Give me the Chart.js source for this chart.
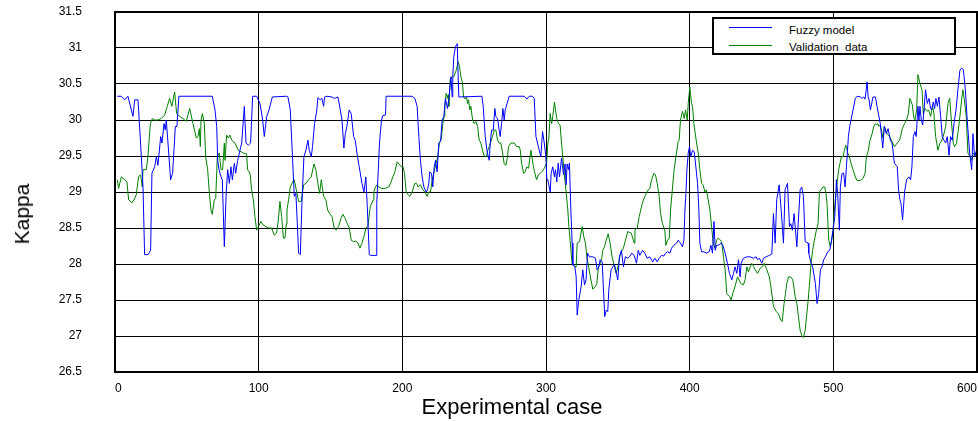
<!DOCTYPE html>
<html>
<head>
<meta charset="utf-8">
<script src="https://cdn.jsdelivr.net/npm/chart.js@4/dist/chart.umd.min.js"></script>
<style>
html,body{margin:0;padding:0;background:#fff;}
#wrap{position:relative;width:978px;height:421px;font-family:"Liberation Sans",Arial,sans-serif;color:#000;}
canvas{display:block;}
#legend{position:absolute;left:712px;top:17px;width:240px;height:34px;border:2px solid #000;background:#fff;font-size:11.5px;}
#legend .ln{position:absolute;left:15px;width:43px;height:1px;}
#legend .tx{position:absolute;left:75px;white-space:pre;line-height:12px;}
#xtitle{position:absolute;left:312px;width:400px;top:395px;text-align:center;font-size:22px;line-height:24px;white-space:nowrap;}
#ytitle{position:absolute;left:22px;top:214px;width:0;height:0;}
#ytitle span{position:absolute;left:0;top:0;transform:translate(-50%,-50%) rotate(-90deg);font-size:21px;line-height:22px;white-space:nowrap;}
</style>
</head>
<body>
<div id="wrap">
<canvas id="c" width="978" height="421"></canvas>
<div id="legend">
  <div class="ln" style="top:8px;background:#0000ff"></div><div class="tx" style="top:5px">Fuzzy model</div>
  <div class="ln" style="top:26px;background:#008000"></div><div class="tx" style="top:22px">Validation  data</div>
</div>
<div id="xtitle">Experimental case</div>
<div id="ytitle"><span>Kappa</span></div>
</div>
<script>
const xTickValues = [0, 100, 200, 300, 400, 500, 600];
const yTickValues = [26.5, 27, 27.5, 28, 28.5, 29, 29.5, 30, 30.5, 31, 31.5];
const seriesNames = ["Fuzzy model", "Validation  data"];

// [experimental case, kappa]
const fuzzyPoints = [
[1.6,30.33],[4.4,30.33],[6.7,30.28],[9.0,30.33],[12.5,30.05],[13.7,30.28],[16,30.28],[17.8,29.68],[19.5,29.07],[20.6,28.13],[23,28.13],[24.8,28.19],[25.7,29.26],[27.6,29.35],[28.8,29.49],[29.9,29.37],[31.8,29.77],[32.7,29.68],[34.1,29.95],[35,29.86],[35.7,30.0],[36.9,29.68],[38.7,29.17],[40.1,29.26],[42,29.91],[43.1,29.91],[44.5,30.33],
[67.7,30.33],[69.6,30.14],[70.8,29.91],[71.5,29.44],[72.4,29.31],[73.8,29.21],[74.7,29.17],[76.1,28.24],[77.3,28.94],[78.4,29.31],[79.6,29.12],[80.7,29.35],[81.7,29.17],[83.1,29.4],[84,29.26],[85.4,29.44],[87,29.58],[88.2,29.68],[90,30.19],[91.2,29.68],[92.8,29.65],[94.4,29.68],[95.8,30.33],[98.6,30.33],[100.9,30.23],[102.8,30.0],[103.9,29.77],[105.6,30.05],[107.2,30.14],[109.5,30.32],[119.3,30.33],
[120.4,30.32],[122,30.14],[123.1,29.68],[124.8,28.94],[125.9,28.98],[126.9,28.56],[127.8,28.15],[129,28.13],[130.1,28.84],[131.5,29.49],[132.9,29.58],[134.3,29.72],[135.2,29.58],[136.6,29.49],[137.5,29.63],[138.9,29.95],[140.5,30.14],[141.2,30.31],[142.9,30.28],[144,30.3],[145.2,30.19],[145.9,30.32],[147.5,30.33],[151,30.32],[152.8,30.3],[155.2,30.32],[156.8,30.14],[158,30.0],[159.3,29.61],[160.3,29.81],[161.4,29.91],[163,30.14],[164.4,30.09],[166.1,29.77],[167.2,29.72],[168.4,29.54],[170,29.35],[171.9,29.12],[173.3,29.0],[174.6,29.21],[175.6,28.8],[177,28.13],[177.9,28.12],
[181.8,28.12],[182.2,28.84],[184.1,29.68],[185.5,30.0],[186.4,30.06],[188.3,30.07],[188.7,30.33],[206.8,30.33],[208.7,30.3],[210.3,30.19],[211.5,29.77],[212.6,29.44],[213.8,29.21],[215,29.07],[216.6,29.0],[217.5,29.03],[218.4,29.12],[219.1,29.28],[220.3,29.26],[221.2,29.07],[222.2,29.35],[223.1,29.44],[224.2,29.28],[225.4,29.68],[226.6,29.7],[227.7,30.0],[228.9,30.05],[230,30.3],[231.4,30.16],[232.4,30.3],[233.8,30.6],[234.7,30.32],[235.1,30.6],[235.8,30.88],[237,31.02],[238.2,31.06],[239.3,30.32],
[255.4,30.33],[256.3,30.19],[257.7,29.77],[258.9,29.58],[259.8,29.49],[260.5,29.44],[261.2,29.68],[262.1,29.86],[263.3,29.86],[264.4,30.16],[265.1,30.05],[266.3,30.02],[267.4,29.86],[268.1,29.77],[269.1,29.95],[270,30.16],[270.9,30.0],[271.6,30.14],[274.4,30.33],[284.8,30.33],[286.7,30.29],[288.3,30.33],[290.6,30.33],[291.8,30.3],[293,29.77],[295.3,29.58],[296.4,29.49],[297.6,29.84],[298.8,29.68],[299.9,29.49],[300.6,29.17],
[301.3,29.17],[302.9,29.0],[303.6,29.26],[304.7,29.35],[305.9,29.21],[306.6,29.31],[307.5,29.14],[308.5,29.4],[309.4,29.21],[310.8,29.47],[312.2,29.24],[313.3,29.39],[314,29.1],[314.7,29.39],[315.6,29.31],[316.3,29.4],[317.3,28.75],[318.2,28.29],[318.7,27.99],[320.1,27.96],[321,27.82],[321.7,27.29],[322.8,27.5],[324.5,27.69],[325.6,27.92],[326.8,27.71],[327.9,27.78],[328.9,28.15],[330.3,28.1],[332.6,28.1],[334.4,28.08],[335.6,27.92],[336.8,27.96],[337.7,28.06],[339.1,28.03],[340,27.64],[340.9,27.27],[341.9,27.36],[343,27.34],[343.7,27.64],[345.3,27.92],[346.5,27.96],[347.7,27.99],[350,27.78],[351.1,28.1],[352.5,28.19],[353.9,27.96],[355.3,28.1],[356.9,28.08],[358.1,28.1],[359.7,28.15],[361.4,28.12],
[363,28.01],[364.2,28.19],[365.3,28.12],[367.2,28.19],[368.8,28.15],[370.4,28.08],[372.3,28.1],[374.2,28.03],[375.8,28.08],[377.4,28.03],[378.8,28.08],[380.4,28.12],[382,28.11],[383.2,28.15],[384.6,28.17],[386.2,28.15],[387.4,28.22],[389,28.26],[390.9,28.29],[392,28.33],[393.6,28.29],[395,28.24],[396,28.33],[396.7,28.75],[397.4,28.98],[398.1,29.31],[399,29.54],[399.9,29.63],[400.8,29.49],[402,29.58],[403.2,29.56],[404.3,29.35],[405.5,29.12],[406.4,28.75],[407.1,28.29],[408.3,28.17],[409.9,28.17],[411.7,28.15],[413.6,28.17],[414.8,28.26],[415.9,28.15],[416.9,28.59],[417.8,28.19],[418.7,28.26],[419.9,28.26],[422,28.29],
[423.1,28.26],[424.7,28.15],[426.3,28.01],[427.7,27.87],[429.3,27.78],[430.5,27.87],[431.6,27.96],[432.8,27.87],[434,28.06],[435.1,27.82],[435.8,28.01],[437.4,28.08],[439.8,28.1],[442.1,28.1],[444.4,28.08],[446.3,28.1],[447.2,28.06],[448.6,28.08],[450.2,28.01],[451.4,28.08],[453.2,28.1],[455.5,28.12],[457.2,28.14],[458.3,28.7],[459.5,28.29],[460.6,28.89],[462.3,29.1],[463.7,28.75],[465.3,28.29],[466.4,29.03],[468.1,29.12],[469.5,28.52],[470.4,28.56],[471.5,28.47],[472.7,28.7],[474.6,28.24],[476.9,29.03],[478,29.07],[479.2,28.94],[480.4,28.31],[482.5,28.29],
[482.9,28.15],[484.5,28.01],[485.6,27.96],[487.5,27.73],[488.7,27.45],[489.8,27.59],[491,27.92],[492.1,27.96],[493.3,28.06],[494.5,28.1],[496.1,28.17],[497.5,28.19],[498.4,28.29],[499.8,28.47],[501,28.66],[501.7,28.94],[502.1,29.17],[503,28.98],[504.2,28.47],[504.9,29.07],[506.1,29.26],[507.2,29.26],[508.2,29.07],[509.1,29.35],[510.5,29.77],[511.4,29.91],[512.3,30.0],[513.7,30.14],[515.3,30.3],[516.5,30.33],[518.8,30.32],[520,30.3],[521.1,30.32],[522.1,30.29],[523.5,30.53],[524.2,30.32],[524.9,30.28],[525.8,30.14],[527.6,30.32],[529.3,30.32],[530.4,30.19],[532.7,29.95],[534.4,29.61],[535.5,29.91],[536.9,29.81],[538.1,29.88],[539.7,29.72],[540.9,29.68],[542.5,29.4],
[543.8,29.37],[544.5,29.35],[545.4,29.03],[546.4,28.89],[547.1,28.84],[548.2,28.61],[548.7,28.75],[549.6,29.0],[551,29.17],[552.6,29.21],[553.8,29.17],[554.7,29.35],[555.7,29.77],[556.8,29.84],[557.7,29.77],[558.9,30.19],[559.6,30.0],[560.3,30.19],[561.2,30.0],[562.2,29.93],[563.1,30.14],[564.2,30.42],[565.4,30.23],[566.6,30.3],[567.7,30.16],[568.4,30.14],[569.6,30.25],[570.5,30.16],[571.4,30.3],[572.4,30.19],[573.5,30.32],[574.7,30.05],[575.8,29.77],[577,29.72],[578.2,29.68],[579.3,29.77],[580.5,29.51],[581.6,29.77],[582.8,29.72],[584,29.95],[585.4,30.14],[586.7,30.42],[588.1,30.69],[589.3,30.72],[590.5,30.7],[591.9,30.42],[593.2,30.0],[594.9,29.54],[596.3,29.31],[597.2,29.81],[598.3,29.49],[599.7,29.58]
];

const validPoints = [
[1.6,29.17],[2.5,29.05],[4.4,29.21],[6.7,29.17],[8.3,29.14],[9.5,28.89],[11.8,28.85],[13.2,28.89],[14.8,28.96],[16.4,29.21],[17.8,29.24],[19,29.07],[19.5,29.31],[21.8,29.31],[22.9,29.49],[24.6,29.95],[26,30.02],[27.6,30.0],[29.9,30.0],[32.2,30.02],[34.6,30.07],[36.4,30.19],[38,30.3],[39.6,30.19],[41.5,30.39],[42.9,30.09],[45,30.05],[47.3,30.02],[49.6,29.98],[52,30.16],[54.3,29.95],[56.6,29.75],[57.8,29.77],
[58.7,29.88],[59.4,29.63],[59.9,30.0],[60.8,30.09],[62.2,29.95],[63.1,29.49],[64.5,29.31],[65.7,28.98],[66.8,28.75],[67.7,28.69],[69.1,28.89],[70.1,28.91],[71.2,29.49],[72.6,29.54],[73.8,29.31],[74.9,29.31],[76.1,29.68],[76.6,29.44],[77.7,29.79],[78.9,29.75],[80,29.79],[81.2,29.72],[83.5,29.68],[85.8,29.58],[87.7,29.56],[89.3,29.54],[91.6,29.53],[92.3,29.31],[94,29.26],[95.1,29.03],[96.3,28.89],[97.4,28.66],[98.6,28.47],[99.8,28.52],[101.6,28.59],[103.2,28.54],[106.7,28.5],[109,28.5],[110.9,28.4],[112.5,28.43],[113.7,28.61],[114.8,28.87],[116,28.66],[117.2,28.36],[118.3,28.36],[119.3,28.56],
[119.7,28.75],[120.8,28.89],[122,29.07],[123.6,29.14],[124.8,29.17],[126.2,29.03],[127.8,28.87],[129.6,28.87],[131.3,29.1],[132.9,29.12],[134.7,29.17],[136.6,29.21],[138.5,29.39],[139.8,29.31],[141.2,29.12],[142.4,28.98],[143.6,29.17],[145.2,28.94],[146.8,28.89],[148,28.75],[149.4,28.7],[151,28.66],[152.6,28.5],[154,28.47],[155.6,28.52],[157.2,28.63],[158.6,28.69],[160.3,28.63],[161.7,28.56],[163.1,28.5],[164.4,28.33],[166.1,28.31],[167.7,28.32],[169.1,28.29],[170.5,28.22],[171.9,28.29],[173.3,28.38],[174.6,28.5],[176,28.52],[177.7,28.8],[179.8,28.89],
[180.2,29.0],[181.3,29.07],[182.5,29.1],[183.6,29.07],[185.5,29.05],[187.8,29.05],[190.6,29.07],[191.8,29.12],[193.4,29.21],[194.8,29.28],[196.4,29.42],[197.6,29.39],[199.4,29.35],[200.3,29.36],[201.5,29.26],[202.7,29.0],[204.1,28.96],[205.2,28.94],[206.8,29.0],[208.7,29.12],[209.9,29.12],[211,29.07],[212.6,29.1],[214.3,29.03],[215.7,29.0],[217.3,28.94],[218.4,29.0],[219.6,29.0],[220.8,29.17],[221.9,29.26],[223.5,29.4],[224.7,29.49],[225.9,29.7],[227,29.72],[228.2,29.95],[229.1,30.05],[229.6,30.19],[230.5,30.37],[231.4,30.3],[231.9,30.35],[232.4,30.19],[233.3,30.56],[234.7,30.6],[235.8,30.6],[237.5,30.69],[238.9,30.81],[239.8,30.74],
[240.8,30.6],[241.9,30.51],[242.6,30.32],[243.8,30.29],[244.7,30.32],[245.4,30.23],[246.1,30.28],[247,30.14],[247.7,30.19],[248.9,30.0],[250,29.95],[251.2,29.98],[252.4,29.91],[253.5,29.72],[254.7,29.68],[255.8,29.58],[257,29.5],[258.6,29.49],[259.5,29.58],[260.5,29.63],[261.6,29.7],[262.8,29.77],[264,29.86],[265.1,29.86],[266.3,29.72],[267.4,29.68],[268.6,29.68],[269.8,29.54],[270.9,29.39],[272.1,29.37],[273.2,29.49],[273.9,29.63],[275.6,29.68],[277.9,29.68],[279.5,29.63],[281.4,29.63],[282.1,29.58],[283,29.4],[284.4,29.26],[285.5,29.28],[286.7,29.35],[287.9,29.33],[288.8,29.49],[289.5,29.58],[290.2,29.49],[291.1,29.37],[292,29.28],[293.4,29.17],[294.8,29.24],[296,29.26],[297.1,29.28],[298.8,29.33],[300.4,29.4],
[301.3,29.68],[302,29.75],[302.9,30.09],[304,29.95],[304.7,30.05],[305.9,30.25],[306.6,30.14],[307.5,30.02],[308.7,29.95],[309.8,29.93],[310.8,29.68],[311.7,29.49],[312.9,29.21],[314,29.0],[315.2,28.75],[315.9,28.52],[316.8,28.33],[318.2,27.99],[319.8,27.97],[321,27.96],[321.7,28.29],[323.3,28.31],[325.2,28.52],[326.3,28.38],[327.5,28.29],[328.4,28.1],[329.3,28.01],[330.9,27.82],[332.6,27.65],[334.4,27.69],[335.4,27.73],[336.5,27.96],[337.7,28.01],[338.8,28.08],[339.5,28.19],[340.7,28.24],[341.9,28.33],[343.3,28.42],[344.6,28.29],[346,28.1],[347.7,27.96],[348.8,27.87],[350,27.96],[351.6,28.12],[353,28.19],[353.9,28.22],[355.3,28.33],[356.9,28.45],[359.3,28.43],[361.4,28.29],
[361.9,28.47],[363.5,28.5],[364.9,28.66],[367,28.84],[368.8,28.94],[371.1,29.03],[372.3,29.05],[373.5,29.17],[375.1,29.26],[376.2,29.24],[377.4,29.12],[378.8,28.94],[379.7,28.7],[381.1,28.56],[382.7,28.47],[383.4,28.26],[384.6,28.33],[385.8,28.36],[386.7,28.75],[388.1,29.07],[389.2,29.31],[390.4,29.49],[392,29.7],[392.7,29.72],[393.6,30.0],[395,30.12],[396.2,30.02],[397.1,30.14],[398.3,30.0],[399,30.23],[400.1,30.46],[401.3,30.23],[402,30.19],[402.9,29.95],[403.9,29.81],[404.8,29.68],[406,29.54],[407.1,29.31],[408.3,29.12],[409.4,29.1],[410.6,29.0],[411.7,29.03],[412.9,28.89],[414.1,28.75],[415.5,28.47],[416.4,28.29],[417.5,28.22],[418.7,28.33],[419.9,28.36],[421.5,28.33],
[422.4,28.29],[423.5,28.1],[424.7,27.92],[425.8,27.59],[427.7,27.55],[428.9,27.5],[430,27.59],[431.6,27.69],[433.3,27.82],[435.6,27.73],[437.4,27.71],[438.6,27.78],[439.8,27.96],[440.9,27.89],[442.1,27.96],[443.2,28.01],[444.4,27.97],[445.6,27.92],[447.2,27.87],[449,27.94],[450.9,27.97],[451.8,28.01],[453.7,27.92],[455.5,27.82],[456.5,27.69],[458.3,27.41],[460.2,27.34],[461.8,27.31],[463.4,27.22],[464.4,27.2],[465.7,27.45],[466.7,27.59],[467.6,27.73],[468.8,27.82],[470.4,27.82],[471.8,27.78],[473.4,27.55],[474.6,27.45],[475.7,27.27],[476.9,27.08],[478,27.01],[479.2,26.98],[480.4,27.08],[481.5,27.3],[482.5,27.5],
[483.3,27.69],[484.5,28.01],[485.6,28.19],[486.8,28.33],[488.2,28.47],[489.4,28.56],[490.3,29.0],[491.4,29.03],[492.8,29.07],[494,29.07],[494.9,28.98],[495.6,28.84],[496.8,28.33],[497.9,28.24],[498.9,28.33],[499.8,28.47],[500.7,28.75],[502.1,29.03],[503.7,29.31],[505.6,29.49],[506.8,29.49],[507.7,29.58],[508.6,29.65],[509.1,29.63],[510,29.54],[510.9,29.51],[512.3,29.4],[513.7,29.31],[515.3,29.21],[516.5,29.16],[518.8,29.16],[520.7,29.19],[522.1,29.26],[523,29.49],[524.4,29.58],[525.3,29.7],[527,29.81],[528.1,29.91],[529.3,29.95],[530,29.93],[530.9,29.95],[531.8,29.91],[532.7,29.93],[534.6,29.75],[535.5,29.91],[537.4,29.81],[539.2,29.77],[540.9,29.7],[542.5,29.63],
[544.5,29.68],[546.1,29.72],[546.8,29.77],[548,29.88],[549.6,29.95],[551,30.0],[552.2,30.09],[553.3,30.3],[555,30.21],[556.1,30.02],[556.8,30.0],[558,30.14],[558.9,30.63],[560.3,30.51],[561.7,30.42],[562.6,30.09],[563.8,30.16],[565.4,30.12],[566.3,30.14],[567.7,30.05],[569.1,30.19],[570,30.09],[571.2,29.77],[572.8,29.58],[574.2,29.68],[575.1,29.7],[576.5,29.77],[578.2,29.91],[579.8,30.23],[581,30.3],[582.1,30.0],[583.5,29.68],[584.4,29.63],[585.8,29.68],[587,29.86],[588.1,30.05],[589.3,30.28],[590.2,30.42],[591.4,30.25],[592.5,30.05],[593.7,29.54],[595.1,29.49],[596.5,29.44],[597.4,29.54],[599,29.51],[599.9,29.58]
];

const FONT = '"Liberation Sans", Arial, sans-serif';

const framePlugin = {
  id: 'frame',
  afterDraw(chart) {
    const {ctx, chartArea: a} = chart;
    ctx.save();
    ctx.strokeStyle = '#000';
    ctx.lineWidth = 2;
    ctx.strokeRect(a.left, a.top, a.right - a.left, a.bottom - a.top);
    ctx.restore();
  }
};

new Chart(document.getElementById('c'), {
  type: 'line',
  data: {
    datasets: [
      { label: seriesNames[0], data: fuzzyPoints.map(p => ({x: p[0], y: p[1]})), borderColor: '#0000ff', backgroundColor: '#0000ff', borderWidth: 1, pointRadius: 0, tension: 0, fill: false },
      { label: seriesNames[1], data: validPoints.map(p => ({x: p[0], y: p[1]})), borderColor: '#008000', backgroundColor: '#008000', borderWidth: 1, pointRadius: 0, tension: 0, fill: false }
    ]
  },
  options: {
    responsive: false,
    animation: false,
    layout: { padding: { left: 0, right: 1, top: 12, bottom: 0 } },
    plugins: { legend: { display: false }, tooltip: { enabled: false } },
    scales: {
      x: {
        type: 'linear', min: 0, max: 600,
        afterBuildTicks: s => { s.ticks = xTickValues.map(v => ({ value: v })); },
        ticks: { align: 'inner', padding: 9, maxRotation: 0, autoSkip: false, color: '#000', font: { family: FONT, size: 12 }, callback: v => String(v) },
        grid: { color: '#000', lineWidth: 1, drawTicks: false },
        border: { display: true, color: '#000', width: 2 },
        afterFit: s => { s.height = 49; s.paddingLeft = 0; s.paddingRight = 0; }
      },
      y: {
        type: 'linear', min: 26.5, max: 31.5,
        afterBuildTicks: s => { s.ticks = yTickValues.map(v => ({ value: v })); },
        ticks: { padding: 33, color: '#000', font: { family: FONT, size: 12 }, callback: v => String(v) },
        grid: { color: '#000', lineWidth: 1, drawTicks: false },
        border: { display: true, color: '#000', width: 2 },
        afterFit: s => { s.width = 115; s.paddingTop = 0; s.paddingBottom = 0; }
      }
    }
  },
  plugins: [framePlugin]
});
</script>
</body>
</html>
